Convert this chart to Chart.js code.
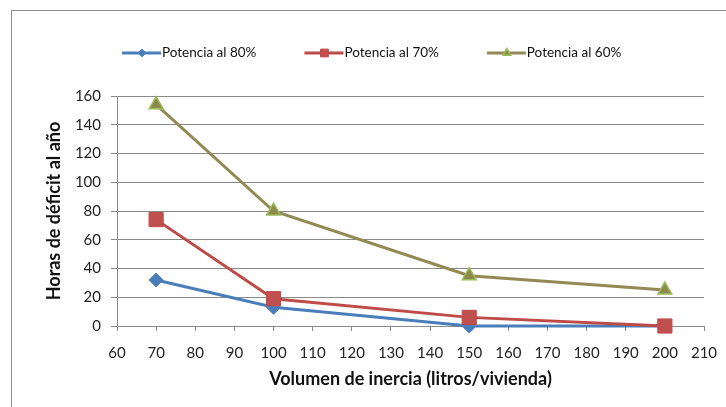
<!DOCTYPE html>
<html>
<head>
<meta charset="utf-8">
<script src="https://cdn.jsdelivr.net/npm/chart.js@4.4.1/dist/chart.umd.min.js"></script>
<style>
  html, body { margin: 0; padding: 0; background: #fff; }
  #wrap { position: relative; width: 726px; height: 407px; }
</style>
</head>
<body>
<div id="wrap"><canvas id="graf" width="726" height="407"></canvas></div>
<script>
// volumen de inercia (l/vivienda) y horas de déficit por potencia
let volumen = [70, 100, 150, 200];
let pot80 = [32, 13, 0, 0];
let pot70 = [74, 19, 6, 0];
let pot60 = [154, 80, 35, 25];
let nombres = ['Potencia al 80%', 'Potencia al 70%', 'Potencia al 60%'];

const fuente = 'Lato, "Open Sans", sans-serif';
const gris = '#8a8a8a';

function puntos(vals) {
    return vals.map((v, i) => ({ x: volumen[i], y: v }));
}

// leyenda dibujada a mano: linea + marcador + texto
const leyenda = {
    id: 'leyenda',
    afterDraw(chart) {
        const ctx = chart.ctx;
        let x = 122;
        const y = 53;
        ctx.save();
        ctx.font = '13.5px ' + fuente;
        ctx.textBaseline = 'middle';
        chart.data.datasets.forEach(ds => {
            ctx.strokeStyle = ds.borderColor;
            ctx.lineWidth = 3;
            ctx.beginPath();
            ctx.moveTo(x, y);
            ctx.lineTo(x + 39, y);
            ctx.stroke();
            ctx.fillStyle = ds.pointBackgroundColor;
            ctx.strokeStyle = ds.pointBorderColor;
            ctx.lineWidth = ds.pointBorderWidth;
            Chart.helpers.drawPoint(ctx, {
                pointStyle: ds.pointStyle,
                radius: ds.pointRadius * 0.55,
                rotation: 0,
                borderWidth: ds.pointBorderWidth
            }, x + 20, y);
            ctx.fillStyle = '#111';
            ctx.fillText(ds.label, x + 40, y);
            x += 40 + ctx.measureText(ds.label).width + 48;
        });
        ctx.restore();
    }
};

// marco del grafico
const marco = {
    id: 'marco',
    beforeDraw(chart) {
        const ctx = chart.ctx;
        ctx.save();
        ctx.strokeStyle = '#8c8c8c';
        ctx.lineWidth = 1;
        ctx.strokeRect(11.5, 10.5, 900, 600);
        ctx.restore();
    }
};

new Chart(document.getElementById('graf'), {
    type: 'line',
    data: {
        datasets: [
            {
                label: nombres[0],
                data: puntos(pot80),
                order: 2,
                clip: false,
                borderColor: '#4A7EBB',
                borderWidth: 3,
                pointStyle: 'rectRot',
                pointRadius: 7,
                pointBackgroundColor: '#4A7EBB',
                pointBorderColor: '#4A7EBB',
                pointBorderWidth: 1
            },
            {
                label: nombres[1],
                data: puntos(pot70),
                order: 1,
                clip: false,
                borderColor: '#BE4B48',
                borderWidth: 3,
                pointStyle: 'rect',
                pointRadius: 10,
                pointBackgroundColor: '#C0504D',
                pointBorderColor: '#BE4B48',
                pointBorderWidth: 1
            },
            {
                label: nombres[2],
                data: puntos(pot60),
                order: 0,
                clip: false,
                borderColor: '#938953',
                borderWidth: 3,
                pointStyle: 'triangle',
                pointRadius: 8,
                pointBackgroundColor: '#8E8A4E',
                pointBorderColor: '#9BBB59',
                pointBorderWidth: 1.5
            }
        ]
    },
    options: {
        responsive: false,
        animation: false,
        layout: { padding: { left: 36, right: 22, top: 96, bottom: 0 } },
        plugins: {
            legend: { display: false },
            tooltip: { enabled: false }
        },
        elements: { line: { tension: 0 } },
        scales: {
            x: {
                type: 'linear',
                min: 60,
                max: 210,
                afterFit: s => {
                    s.height = 81;
                    s.paddingLeft = 0;
                    s.paddingRight = 0;
                },
                ticks: {
                    stepSize: 10,
                    padding: 13,
                    color: '#222',
                    font: { family: fuente, size: 15 }
                },
                grid: { drawOnChartArea: false, drawTicks: true, tickLength: 5, color: gris },
                border: { display: true, color: gris },
                title: {
                    display: true,
                    text: 'Volumen de inercia (litros/vivienda)',
                    color: '#111',
                    padding: { top: 0, bottom: 17 },
                    font: { family: fuente, size: 18, weight: 'bold' }
                }
            },
            y: {
                min: 0,
                max: 160,
                afterFit: s => { s.width = 81; },
                ticks: {
                    stepSize: 20,
                    padding: 10,
                    color: '#222',
                    font: { family: fuente, size: 15 }
                },
                grid: { drawTicks: true, tickLength: 6, color: gris },
                border: { display: true, color: gris },
                title: {
                    display: true,
                    text: 'Horas de déficit al año',
                    color: '#111',
                    padding: { top: 7, bottom: 0 },
                    font: { family: fuente, size: 18, weight: 'bold' }
                }
            }
        }
    },
    plugins: [marco, leyenda]
});
</script>
</body>
</html>
